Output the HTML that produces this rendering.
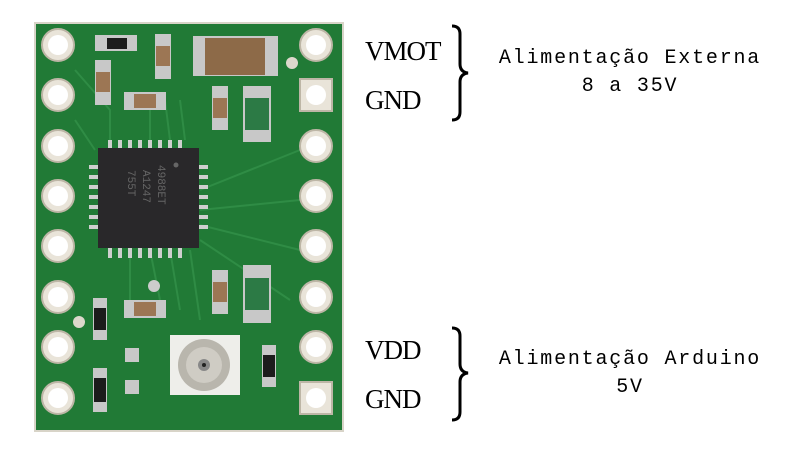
<!DOCTYPE html>
<html><head><meta charset="utf-8"><style>
body{margin:0;width:800px;height:450px;background:#fff;position:relative;overflow:hidden}
.a{position:absolute}
.lbl{font-family:"Liberation Serif",serif;font-size:27px;color:#000;letter-spacing:-1px}
.m{font-family:"Liberation Mono",monospace;font-size:20px;color:#000;text-align:center;width:330px;letter-spacing:1.8px}
</style></head><body>
<svg class="a" style="left:0;top:0" width="800" height="450">
<rect x="34" y="22" width="310" height="410" fill="#d8d4c8"/>
<rect x="36" y="24" width="306" height="406" fill="#217a36"/>
<g stroke="#2f8c45" stroke-width="2" fill="none">
<path d="M75 70 L110 110 L110 170"/><path d="M75 120 L95 150"/><path d="M200 190 L300 150"/><path d="M200 210 L300 200"/><path d="M200 225 L300 250"/><path d="M200 240 L290 300"/>
<path d="M130 250 L130 300"/><path d="M150 250 L160 300"/><path d="M170 250 L180 310"/><path d="M190 250 L200 320"/>
<path d="M150 100 L150 140"/><path d="M165 100 L170 140"/><path d="M180 100 L185 140"/>
</g>
<g fill="#e9e4d9" stroke="#bdb6a6" stroke-width="2">
<circle cx="58" cy="45" r="16"/><circle cx="58" cy="95" r="16"/><circle cx="58" cy="146" r="16"/><circle cx="58" cy="196" r="16"/><circle cx="58" cy="246" r="16"/><circle cx="58" cy="297" r="16"/><circle cx="58" cy="347" r="16"/><circle cx="58" cy="398" r="16"/>
<circle cx="316" cy="45" r="16"/><rect x="300" y="79" width="32" height="32"/><circle cx="316" cy="146" r="16"/><circle cx="316" cy="196" r="16"/><circle cx="316" cy="246" r="16"/><circle cx="316" cy="297" r="16"/><circle cx="316" cy="347" r="16"/><rect x="300" y="382" width="32" height="32"/>
</g>
<g fill="#fff">
<circle cx="58" cy="45" r="10"/><circle cx="58" cy="95" r="10"/><circle cx="58" cy="146" r="10"/><circle cx="58" cy="196" r="10"/><circle cx="58" cy="246" r="10"/><circle cx="58" cy="297" r="10"/><circle cx="58" cy="347" r="10"/><circle cx="58" cy="398" r="10"/>
<circle cx="316" cy="45" r="10"/><circle cx="316" cy="95" r="10"/><circle cx="316" cy="146" r="10"/><circle cx="316" cy="196" r="10"/><circle cx="316" cy="246" r="10"/><circle cx="316" cy="297" r="10"/><circle cx="316" cy="347" r="10"/><circle cx="316" cy="398" r="10"/>
</g>
<circle cx="292" cy="63" r="6" fill="#ddd8cc"/><circle cx="79" cy="322" r="6" fill="#ddd8cc"/>
<g fill="#cfcfcf">
<rect x="108" y="140" width="4" height="8"/><rect x="118" y="140" width="4" height="8"/><rect x="128" y="140" width="4" height="8"/><rect x="138" y="140" width="4" height="8"/><rect x="148" y="140" width="4" height="8"/><rect x="158" y="140" width="4" height="8"/><rect x="168" y="140" width="4" height="8"/><rect x="178" y="140" width="4" height="8"/>
<rect x="108" y="248" width="4" height="10"/><rect x="118" y="248" width="4" height="10"/><rect x="128" y="248" width="4" height="10"/><rect x="138" y="248" width="4" height="10"/><rect x="148" y="248" width="4" height="10"/><rect x="158" y="248" width="4" height="10"/><rect x="168" y="248" width="4" height="10"/><rect x="178" y="248" width="4" height="10"/>
<rect x="89" y="165" width="10" height="4"/><rect x="89" y="175" width="10" height="4"/><rect x="89" y="185" width="10" height="4"/><rect x="89" y="195" width="10" height="4"/><rect x="89" y="205" width="10" height="4"/><rect x="89" y="215" width="10" height="4"/><rect x="89" y="225" width="10" height="4"/>
<rect x="198" y="165" width="10" height="4"/><rect x="198" y="175" width="10" height="4"/><rect x="198" y="185" width="10" height="4"/><rect x="198" y="195" width="10" height="4"/><rect x="198" y="205" width="10" height="4"/><rect x="198" y="215" width="10" height="4"/><rect x="198" y="225" width="10" height="4"/>
</g>
<rect x="98" y="148" width="101" height="100" fill="#29282a"/>
<circle cx="176" cy="165" r="2.5" fill="#666"/>
<text x="0" y="0" transform="translate(158,165) rotate(90)" font-family="Liberation Mono" font-size="11" fill="#666">4988ET</text>
<text x="0" y="0" transform="translate(143,170) rotate(90)" font-family="Liberation Mono" font-size="11" fill="#666">A1247</text>
<text x="0" y="0" transform="translate(128,170) rotate(90)" font-family="Liberation Mono" font-size="11" fill="#666">755T</text>
<g fill="#c8c8c8">
<rect x="193" y="36" width="85" height="40"/><rect x="95" y="35" width="42" height="16"/><rect x="155" y="34" width="16" height="45"/><rect x="95" y="60" width="16" height="45"/><rect x="124" y="92" width="42" height="18"/>
<rect x="212" y="86" width="16" height="44"/><rect x="243" y="86" width="28" height="56"/><rect x="212" y="270" width="16" height="44"/><rect x="243" y="265" width="28" height="58"/>
<rect x="124" y="300" width="42" height="18"/><rect x="93" y="298" width="14" height="42"/><rect x="93" y="368" width="14" height="44"/><rect x="262" y="345" width="14" height="42"/>
<rect x="125" y="348" width="14" height="14"/><rect x="125" y="380" width="14" height="14"/>
</g>
<rect x="205" y="38" width="60" height="37" fill="#8d6a48"/>
<rect x="107" y="38" width="20" height="11" fill="#1c1c1c"/>
<rect x="156" y="46" width="14" height="20" fill="#9c7654"/>
<rect x="96" y="72" width="14" height="20" fill="#9c7654"/>
<rect x="134" y="94" width="22" height="14" fill="#9c7654"/>
<rect x="213" y="98" width="14" height="20" fill="#9c7654"/>
<rect x="213" y="282" width="14" height="20" fill="#9c7654"/>
<rect x="134" y="302" width="22" height="14" fill="#9c7654"/>
<rect x="245" y="98" width="24" height="32" fill="#2c7a45"/>
<rect x="245" y="278" width="24" height="32" fill="#2c7a45"/>
<rect x="94" y="308" width="12" height="22" fill="#1c1c1c"/>
<rect x="94" y="378" width="12" height="24" fill="#1c1c1c"/>
<rect x="263" y="355" width="12" height="22" fill="#1c1c1c"/>
<rect x="170" y="335" width="70" height="60" fill="#eeeeea"/>
<circle cx="204" cy="365" r="26" fill="#b9b6ad"/>
<circle cx="204" cy="365" r="18" fill="#cfccc4"/>
<circle cx="204" cy="365" r="6" fill="#888"/><circle cx="204" cy="365" r="2" fill="#222"/>
<circle cx="154" cy="286" r="6" fill="#ccc"/>
</svg>
<div class="a lbl" style="left:365px;top:36px">VMOT</div>
<div class="a lbl" style="left:365px;top:85px">GND</div>
<div class="a lbl" style="left:365px;top:335px">VDD</div>
<div class="a lbl" style="left:365px;top:384px">GND</div>
<svg class="a" style="left:440px;top:0" width="40" height="450">
<path d="M12 26 Q20 26 20 34 L20 64 Q20 72 28 73 Q20 74 20 82 L20 112 Q20 120 12 120" fill="none" stroke="#000" stroke-width="3"/>
<path d="M12 328 Q20 328 20 336 L20 364 Q20 372 28 373 Q20 374 20 382 L20 412 Q20 420 12 420" fill="none" stroke="#000" stroke-width="3"/>
</svg>
<div class="a m" style="left:465px;top:47px">Alimentação Externa</div>
<div class="a m" style="left:465px;top:75px">8 a 35V</div>
<div class="a m" style="left:465px;top:348px">Alimentação Arduino</div>
<div class="a m" style="left:465px;top:376px">5V</div>
</body></html>
